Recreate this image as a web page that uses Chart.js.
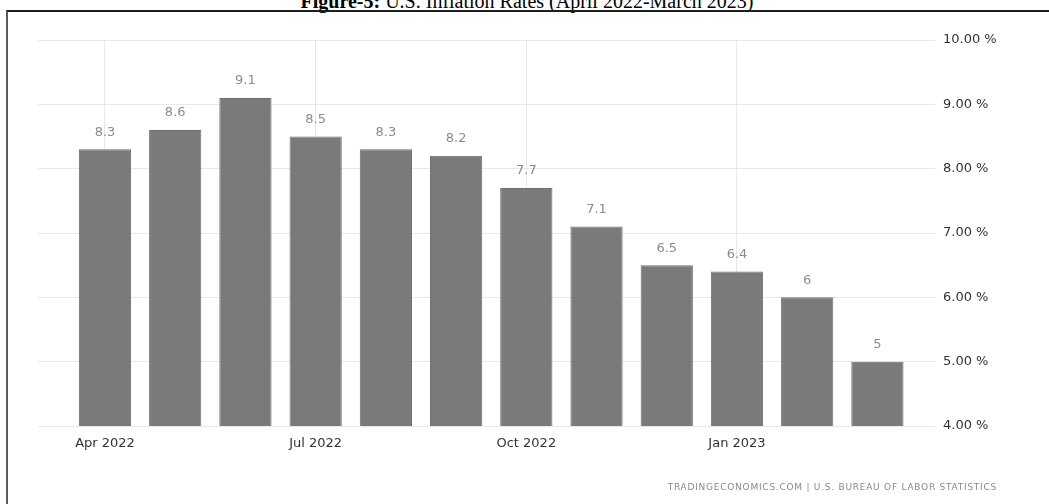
<!doctype html>
<html lang="en">
<head>
<meta charset="utf-8">
<title>U.S. Inflation Rates</title>
<script src="https://cdn.jsdelivr.net/npm/chart.js"></script>
<style>
  body { margin: 0; background: #fff; overflow: hidden; }
  .title {
    position: absolute; left: 0; width: 1054px; top: -9px;
    text-align: center; font: 20px/20px "Liberation Serif", serif; color: #000;
    white-space: nowrap;
  }
  .frame {
    position: absolute; left: 6px; top: 10px; width: 1200px; height: 600px;
    border-top: 2px solid #1e1e1e; border-left: 2px solid #5a5a5a;
  }
  .chart-box { position: absolute; left: 0; top: 0; width: 1049px; height: 504px; }
  .source {
    position: absolute; right: 52px; top: 482px;
    font: 9px "DejaVu Sans", sans-serif; letter-spacing: 0.75px; color: #8a8a8a;
    white-space: nowrap;
  }
</style>
</head>
<body>
<div class="title"><b>Figure-5:</b> U.S. Inflation Rates (April 2022-March 2023)</div>
<div class="frame"></div>
<div class="chart-box"><canvas id="inflation" width="1049" height="504"></canvas></div>
<div class="source">TRADINGECONOMICS.COM | U.S. BUREAU OF LABOR STATISTICS</div>

<script>
  // monthly CPI inflation, Apr 2022 - Mar 2023
  const months = ['Apr 2022', 'May 2022', 'Jun 2022', 'Jul 2022', 'Aug 2022', 'Sep 2022',
                  'Oct 2022', 'Nov 2022', 'Dec 2022', 'Jan 2023', 'Feb 2023', 'Mar 2023'];
  const rates = [8.3, 8.6, 9.1, 8.5, 8.3, 8.2, 7.7, 7.1, 6.5, 6.4, 6, 5];
  const shownTicks = [0, 3, 6, 9];   // Apr, Jul, Oct, Jan
  const yTicks = [4, 5, 6, 7, 8, 9, 10];

  const points = rates.map((v, i) => ({ x: i, y: v }));

  // value labels above each bar
  const barLabels = {
    id: 'barLabels',
    afterDatasetsDraw(chart) {
      const ctx = chart.ctx;
      const meta = chart.getDatasetMeta(0);
      ctx.save();
      ctx.font = '13px "DejaVu Sans", sans-serif';
      ctx.fillStyle = '#8c8c8c';
      ctx.textAlign = 'center';
      ctx.textBaseline = 'middle';
      meta.data.forEach((bar, i) => {
        ctx.fillText(String(rates[i]), bar.x, bar.y - 17);
      });
      ctx.restore();
    }
  };

  new Chart(document.getElementById('inflation'), {
    type: 'bar',
    data: {
      datasets: [{
        data: points,
        backgroundColor: '#7a7a7a',
        borderColor: '#6e6e6e',
        borderWidth: 1,
        barPercentage: 0.93,
        categoryPercentage: 0.8
      }]
    },
    options: {
      responsive: false,
      animation: false,
      layout: { padding: { left: 38, top: 40, right: 0, bottom: 0 } },
      plugins: { legend: { display: false }, tooltip: { enabled: false } },
      scales: {
        x: {
          type: 'linear',
          min: -0.954,
          max: 11.82,
          offset: false,
          afterBuildTicks(scale) { scale.ticks = shownTicks.map(v => ({ value: v })); },
          afterFit(scale) { scale.height = 78; },
          border: { display: false },
          grid: { color: '#e8e8e8', drawTicks: false, offset: false },
          ticks: {
            padding: 10,
            maxRotation: 0,
            autoSkip: false,
            color: '#333',
            font: { family: 'DejaVu Sans', size: 13 },
            callback: v => months[v]
          }
        },
        y: {
          position: 'right',
          min: 4,
          max: 10,
          afterBuildTicks(scale) { scale.ticks = yTicks.map(v => ({ value: v })); },
          afterFit(scale) { scale.width = 114; },
          border: { display: false },
          grid: { color: '#e8e8e8', drawTicks: false },
          ticks: {
            padding: 8,
            color: '#333',
            font: { family: 'DejaVu Sans', size: 13 },
            callback: v => v.toFixed(2) + ' %'
          }
        }
      }
    },
    plugins: [barLabels]
  });
</script>
</body>
</html>
